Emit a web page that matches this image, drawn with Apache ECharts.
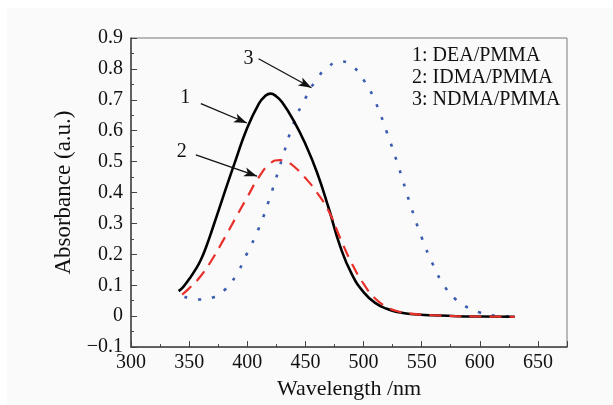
<!DOCTYPE html>
<html>
<head>
<meta charset="utf-8">
<script src="https://cdn.jsdelivr.net/npm/echarts@6/dist/echarts.min.js"></script>
<style>
  html,body{margin:0;padding:0;background:#fff}
  #main{width:613px;height:405px}
</style>
</head>
<body>
<div id="main"></div>
<script>
// curve 1: DEA/PMMA
var wl1 = [341,345,350,355,360,365,370,380,390,400,410,415,420,425,430,440,450,460,470,480,490,500,510,520,530,540,560,580,600,630]
var ab1 = [0.081,0.095,0.12,0.148,0.182,0.228,0.282,0.395,0.505,0.61,0.688,0.711,0.72,0.711,0.692,0.632,0.557,0.465,0.35,0.225,0.135,0.078,0.043,0.024,0.013,0.007,0.003,0.0,-0.001,-0.002]
// curve 2: IDMA/PMMA
var wl2 = [344,350,360,370,380,390,400,410,420,428,435,440,450,460,470,480,490,500,510,520,530,540,560,580,600,630]
var ab2 = [0.07,0.09,0.13,0.185,0.25,0.318,0.385,0.45,0.495,0.505,0.497,0.485,0.447,0.40,0.34,0.252,0.17,0.105,0.057,0.03,0.015,0.008,0.003,0.0,-0.001,-0.002]
// curve 3: NDMA/PMMA
var wl3 = [346,350,360,370,380,390,400,410,420,430,440,450,460,470,480,490,500,510,520,530,540,550,560,570,580,590,600,610,620,630]
var ab3 = [0.063,0.058,0.054,0.06,0.083,0.13,0.205,0.285,0.39,0.51,0.625,0.705,0.768,0.808,0.824,0.81,0.765,0.695,0.595,0.485,0.364,0.255,0.165,0.095,0.052,0.027,0.012,0.003,0.0,-0.002]

var seriesNames = ['1: DEA/PMMA','2: IDMA/PMMA','3: NDMA/PMMA']
var labelText = ['1','2','3']
// annotation: label position, arrow start, arrow end (data coords)
var labelPos = [[346.6,0.706],[343.7,0.532],[401.1,0.833]]
var arrowFrom = [[360.1,0.6875],[355.8,0.522],[409.7,0.833]]
var arrowTo = [[399.7,0.625],[408.4,0.453],[455.2,0.739]]

var xTicks = [300,350,400,450,500,550,600,650]

function pairs(xs,ys){
  var out=[]
  for(var i in xs){ out.push([xs[i],ys[i]]) }
  return out
}

var font='Liberation Serif'
var chart = echarts.init(document.getElementById('main'))

function annot(i){
  return {
    markLine:{
      silent:true,
      animation:false,
      label:{show:false},
      lineStyle:{color:'#111',type:'solid',width:1.3},
      symbolSize:[7,13],
      data:[[{coord:arrowFrom[i],symbol:'none'},{coord:arrowTo[i],symbol:'arrow'}]]
    },
    markPoint:{
      silent:true,
      animation:false,
      symbol:'circle',
      symbolSize:1,
      itemStyle:{color:'rgba(0,0,0,0)'},
      label:{show:true,position:'inside',color:'#111',fontFamily:font,fontSize:20,formatter:labelText[i]},
      data:[{coord:labelPos[i]}]
    }
  }
}

var s1 = Object.assign({
  name:seriesNames[0],type:'line',data:pairs(wl1,ab1),smooth:true,showSymbol:false,
  lineStyle:{color:'#000',width:2.6,type:'solid'},z:3
},annot(0))
var s2 = Object.assign({
  name:seriesNames[1],type:'line',data:pairs(wl2,ab2),smooth:true,showSymbol:false,
  lineStyle:{color:'#e8302a',width:2.2,type:[12,8]},z:4
},annot(1))
var s3 = Object.assign({
  name:seriesNames[2],type:'line',data:pairs(wl3,ab3),smooth:true,showSymbol:false,
  lineStyle:{color:'#3a5cae',width:2.6,type:[3,11]},z:2
},annot(2))

var option = {
  animation:false,
  backgroundColor:'#fafafa',
  textStyle:{fontFamily:font},
  grid:{left:131,top:38,right:46,bottom:47,show:true,borderColor:'#777',borderWidth:1,backgroundColor:'transparent'},
  xAxis:{
    type:'value',min:300,max:675,interval:50,
    name:'Wavelength /nm',nameLocation:'middle',nameGap:25,
    nameTextStyle:{fontFamily:font,fontSize:22,color:'#111'},
    axisLine:{show:true,onZero:false,lineStyle:{color:'#444',width:1.5}},
    axisTick:{show:true,inside:true,length:6,lineStyle:{color:'#444'}},
    minorTick:{show:true,splitNumber:2,length:3,lineStyle:{color:'#444'}},
    splitLine:{show:false},
    axisLabel:{fontFamily:font,fontSize:20,color:'#111',margin:6,
      formatter:function(v){return xTicks.indexOf(Math.round(v))>=0?String(Math.round(v)):''}}
  },
  yAxis:{
    type:'value',min:-0.1,max:0.9,interval:0.1,
    name:'Absorbance (a.u.)',nameLocation:'middle',nameGap:54,
    nameTextStyle:{fontFamily:font,fontSize:23,color:'#111'},
    axisLine:{show:true,onZero:false,lineStyle:{color:'#444',width:1.5}},
    axisTick:{show:true,inside:true,length:6,lineStyle:{color:'#444'}},
    minorTick:{show:true,splitNumber:2,length:3,lineStyle:{color:'#444'}},
    splitLine:{show:false},
    axisLabel:{fontFamily:font,fontSize:20,color:'#111',margin:8,
      formatter:function(v){
        var r=Math.round(v*10)/10
        if(r===0) return '0'
        return r<0 ? '\u2212'+Math.abs(r).toFixed(1) : r.toFixed(1)
      }}
  },
  graphic:[
    {type:'rect',left:0,top:0,shape:{width:613,height:8},style:{fill:'#fff'},silent:true},
    {type:'rect',left:0,top:0,shape:{width:7,height:405},style:{fill:'#fff'},silent:true},
    {type:'text',left:412,top:45,style:{text:seriesNames.join('\n'),fontFamily:font,fontSize:20,lineHeight:21.7,fill:'#111'},silent:true}
  ],
  series:[s1,s2,s3]
}
chart.setOption(option)
</script>
</body>
</html>
